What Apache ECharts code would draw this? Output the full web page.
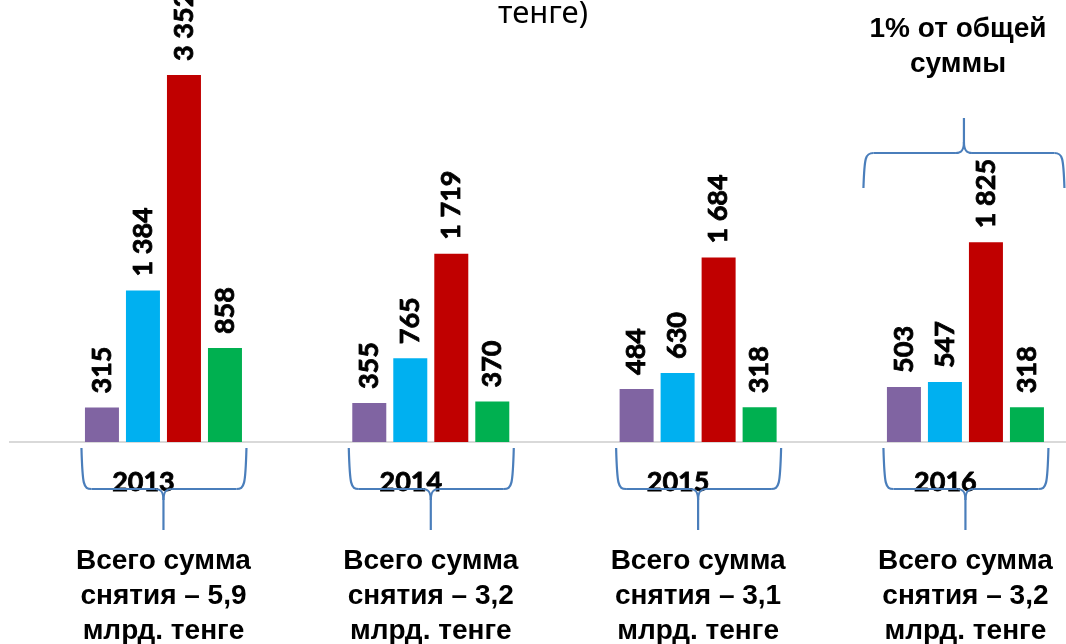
<!DOCTYPE html>
<html>
<head>
<meta charset="utf-8">
<script src="https://cdn.jsdelivr.net/npm/echarts@6/dist/echarts.min.js"></script>
<style>
  html, body { margin: 0; padding: 0; background: #ffffff; }
  #chart { width: 1066px; height: 644px; }
</style>
</head>
<body>
<div id="chart"></div>
<script>
// Withdrawals by year (four indicator groups per year)
const years = ['2013', '2014', '2015', '2016'];
const purpleVals = [315, 355, 484, 503];
const blueVals = [1384, 765, 630, 547];
const redVals = [3352, 1719, 1684, 1825];
const greenVals = [858, 370, 318, 318];
// Total withdrawn per year, bn tenge
const totals = ['5,9', '3,2', '3,1', '3,2'];
const noteText = '1% от общей\nсуммы';
const titleTail = 'тенге)';

const colors = ['#8064a2', '#00b0f0', '#c00000', '#00b050'];
const braceColor = '#4a7ebb';

const summaries = totals.map(t => 'Всего сумма\nснятия – ' + t + '\nмлрд. тенге');

function fmt(v) {
  return String(v).replace(/\B(?=(\d{3})+(?!\d))/g, ' ');
}

const labelStyle = {
  show: true,
  position: 'top',
  rotate: 90,
  align: 'left',
  verticalAlign: 'middle',
  distance: 14,
  fontFamily: 'Lato',
  fontWeight: 'bold',
  fontSize: 27,
  color: '#000',
  textBorderColor: '#000',
  textBorderWidth: 0.8,
  formatter: p => fmt(p.value)
};

function barSeries(data, color) {
  return {
    type: 'bar',
    data: data,
    barWidth: 34,
    barGap: '20.6%',
    itemStyle: { color: color },
    label: labelStyle,
    silent: true
  };
}

const chart = echarts.init(document.getElementById('chart'), null, { renderer: 'canvas' });

chart.setOption({
  animation: false,
  grid: { left: 29.8, top: 0, width: 1069.3, bottom: 202, containLabel: false, outerBoundsMode: 'none' },
  xAxis: [
    {
      type: 'category',
      data: years,
      axisLine: { show: true, lineStyle: { color: '#d9d9d9', width: 2 } },
      axisTick: { show: false },
      axisLabel: {
        margin: 25,
        fontFamily: 'Lato',
        fontWeight: 'bold',
        fontSize: 27,
        lineHeight: 30,
        padding: [0, 40, 0, 0],
        color: '#000',
        textBorderColor: '#000',
        textBorderWidth: 0.8
      }
    },
    {
      type: 'category',
      position: 'bottom',
      data: summaries,
      axisLine: { show: false },
      axisTick: { show: false },
      axisLabel: {
        margin: 102,
        fontFamily: 'Liberation Sans',
        fontWeight: 'bold',
        fontSize: 28,
        lineHeight: 35,
        color: '#000',
        interval: 0
      }
    }
  ],
  yAxis: {
    type: 'value',
    min: 0,
    max: 4036,
    show: false,
    splitLine: { show: false }
  },
  series: [
    barSeries(purpleVals, colors[0]),
    barSeries(blueVals, colors[1]),
    barSeries(redVals, colors[2]),
    barSeries(greenVals, colors[3])
  ]
});

// Braces and annotations placed from the axis scale
const baseY = chart.convertToPixel({ yAxisIndex: 0 }, 0);
const centers = years.map(y => chart.convertToPixel({ xAxisIndex: 0 }, y));
const gridLeft = centers[0] - (centers[1] - centers[0]) / 2;

const braceStyle = { fill: null, stroke: braceColor, lineWidth: 2.2 };

function seg(x1, y1, x2, y2) {
  return { type: 'line', shape: { x1, y1, x2, y2 }, style: braceStyle, silent: true, z: 100 };
}
function curve(x1, y1, c1x, c1y, c2x, c2y, x2, y2) {
  return {
    type: 'bezierCurve',
    shape: { x1, y1, cpx1: c1x, cpy1: c1y, cpx2: c2x, cpy2: c2y, x2, y2 },
    style: braceStyle, silent: true, z: 100
  };
}

// Horizontal curly brace: ends at yEnd, body at yBody, point at yTip
function brace(L, R, m, yEnd, yBody, yTip) {
  const d = yTip > yBody ? 1 : -1;
  return [
    curve(L, yEnd, L + 1, yBody - 4 * d, L + 2, yBody, L + 10, yBody),
    seg(L + 10, yBody, m - 8, yBody),
    curve(m - 8, yBody, m - 3, yBody, m, yBody + 2 * d, m, yBody + 11 * d),
    seg(m, yBody + 11 * d, m, yTip),
    curve(m, yBody + 11 * d, m, yBody + 2 * d, m + 3, yBody, m + 8, yBody),
    seg(m + 8, yBody, R - 10, yBody),
    curve(R - 10, yBody, R - 2, yBody, R - 1, yBody - 4 * d, R, yEnd)
  ];
}

let graphics = [];
centers.forEach(cx => {
  graphics = graphics.concat(brace(cx - 82, cx + 83, cx, baseY + 6, baseY + 47, baseY + 88));
});
const c4 = centers[3];
graphics = graphics.concat(brace(c4 - 102, c4 + 99, c4 - 1.5, 188, 153, 118));

// Baseline continues left of the first category band
graphics.push({
  type: 'line',
  z: 1,
  shape: { x1: 9, y1: baseY, x2: gridLeft, y2: baseY },
  style: { stroke: '#d9d9d9', lineWidth: 2 },
  silent: true
});
graphics.push({
  type: 'text',
  z: 100,
  x: 958,
  y: 47,
  style: {
    text: noteText,
    fontFamily: 'Liberation Sans',
    fontWeight: 'bold',
    fontSize: 28,
    lineHeight: 35,
    fill: '#000',
    align: 'center',
    verticalAlign: 'middle'
  },
  silent: true
});
graphics.push({
  type: 'text',
  z: 100,
  x: 543,
  y: 14,
  style: {
    text: titleTail,
    fontFamily: 'Noto Sans',
    fontSize: 31,
    fill: '#000',
    align: 'center',
    verticalAlign: 'middle'
  },
  silent: true
});

chart.setOption({ graphic: graphics });
</script>
</body>
</html>
